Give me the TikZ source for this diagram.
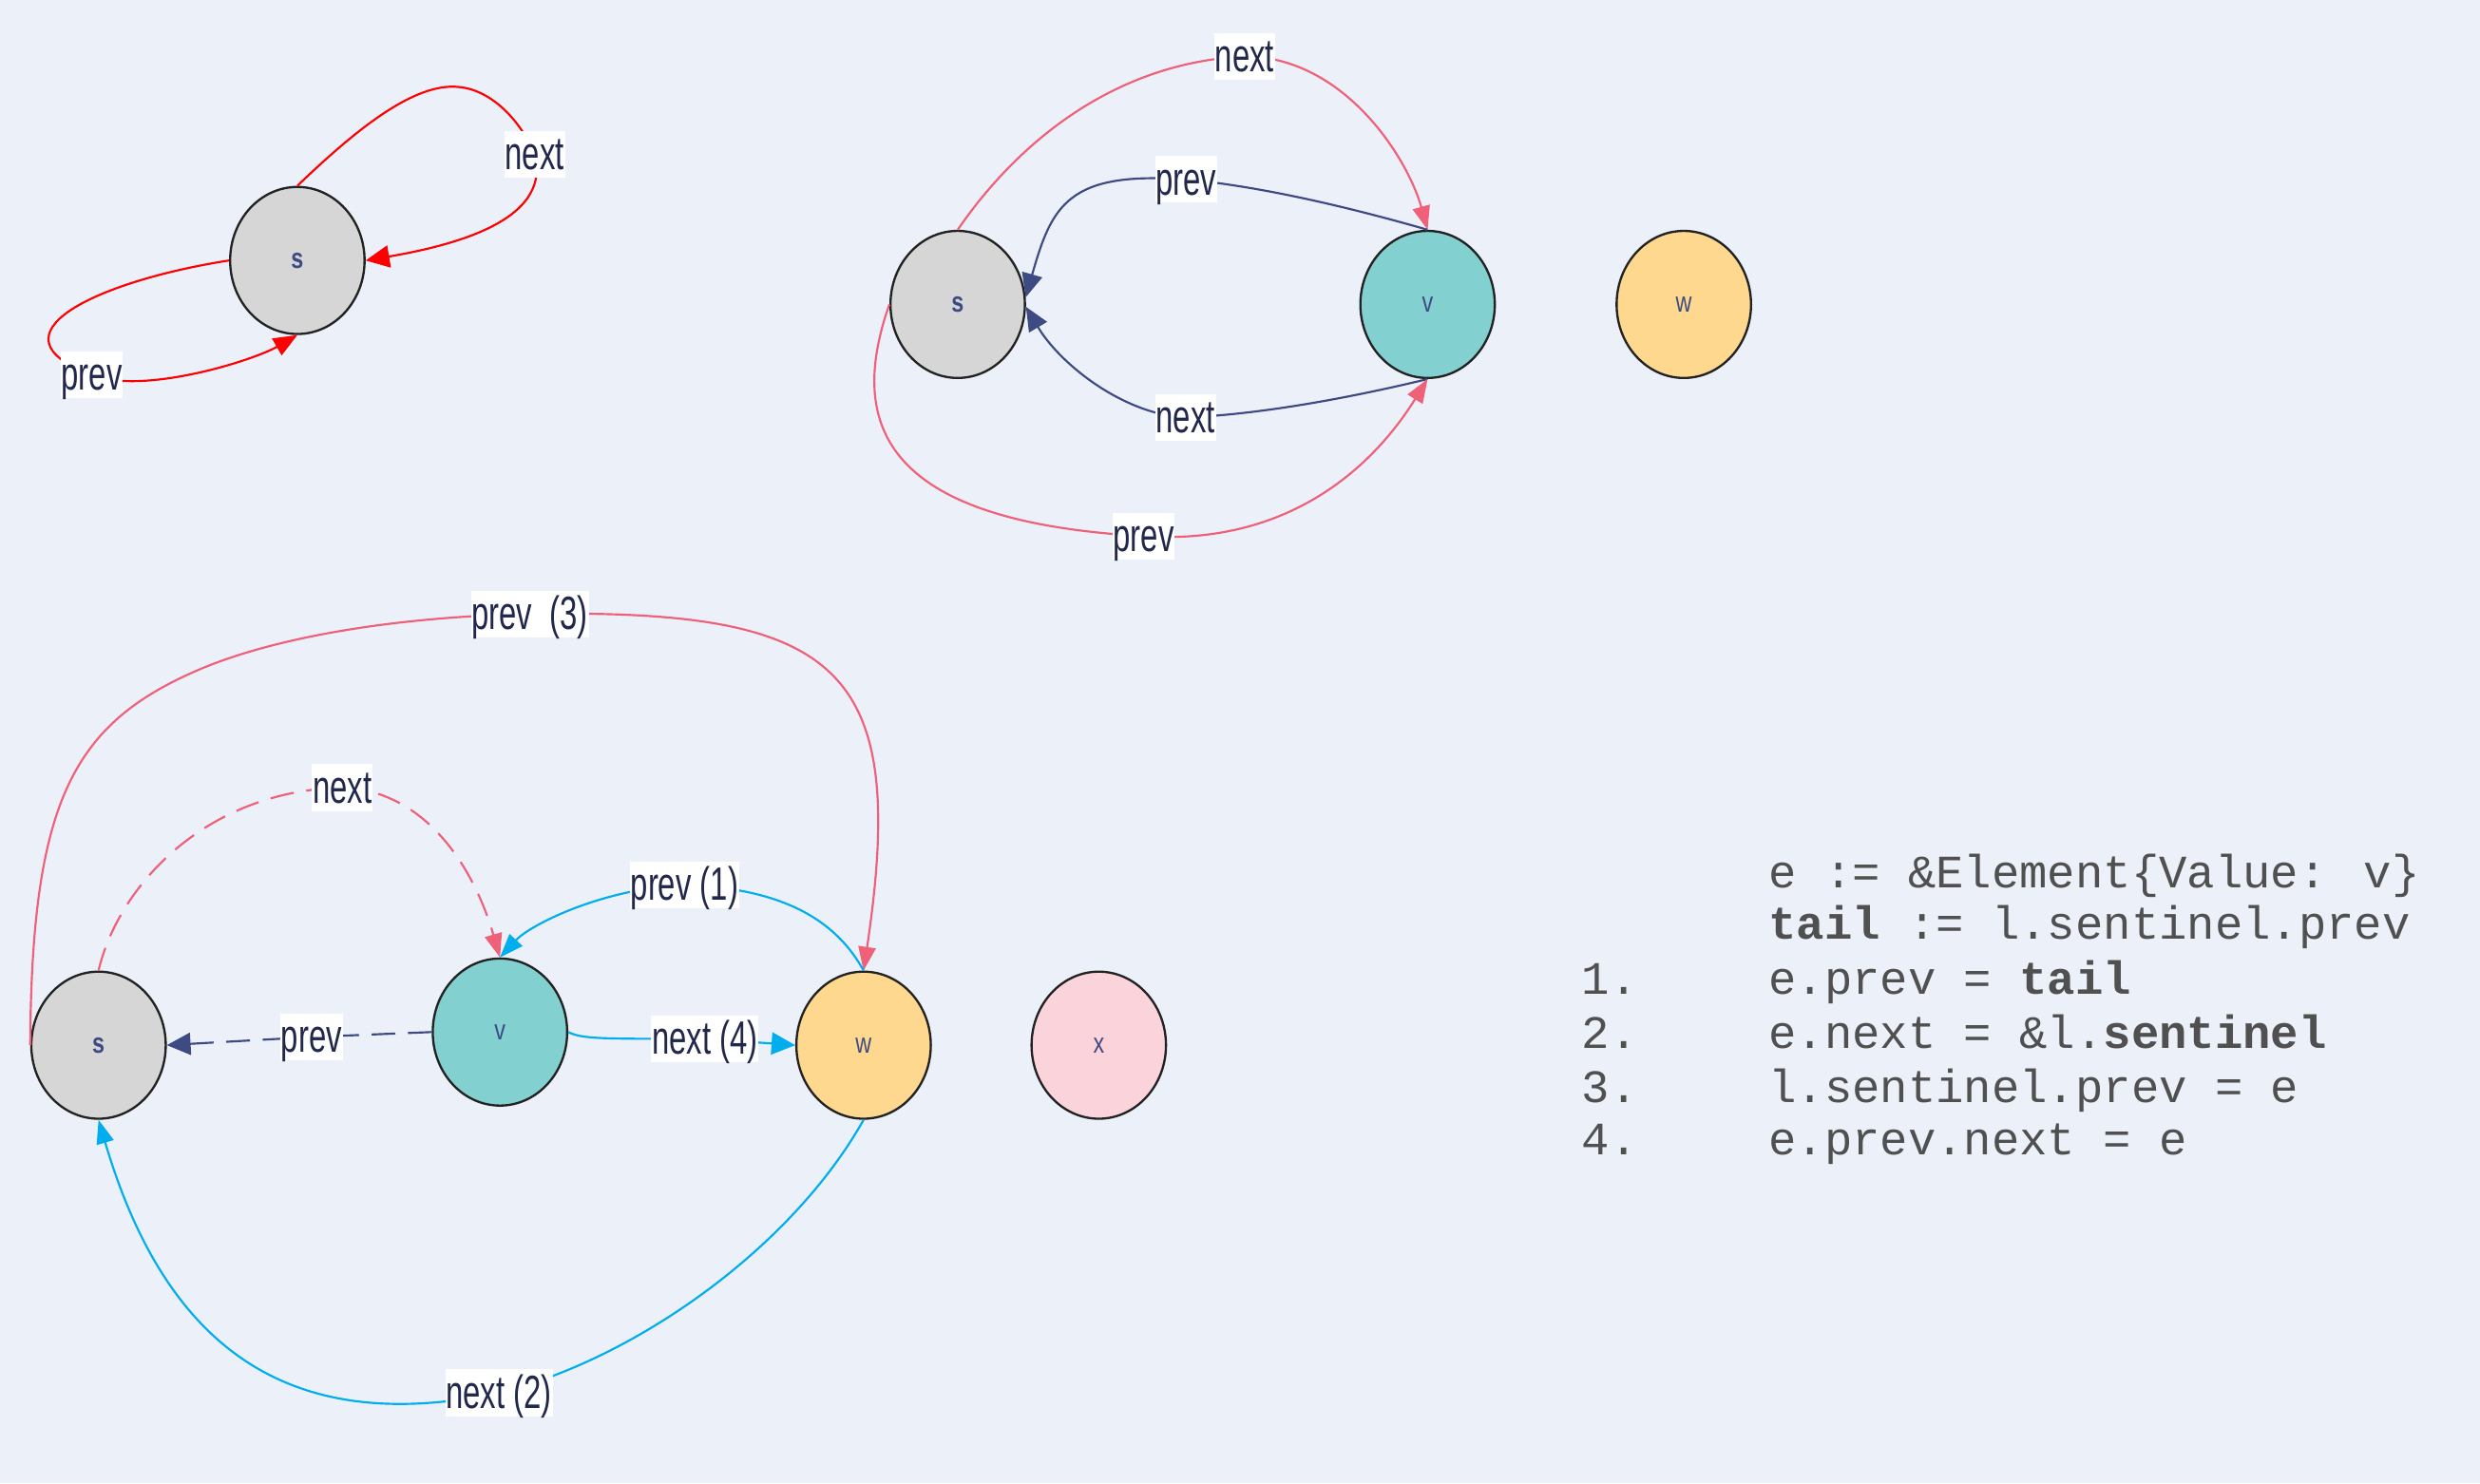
\documentclass[tikz,border=0pt]{standalone}
\usepackage{fontspec}
\usetikzlibrary{shapes.geometric,arrows.meta}
\newfontfamily\lblfont[FakeStretch=0.67]{Liberation Sans}
\newfontfamily\ndfont[FakeStretch=0.78]{Liberation Sans}
\newfontfamily\codefont{Liberation Mono}
\definecolor{bgc}{RGB}{235,240,249}
\definecolor{gfill}{RGB}{214,214,214}
\definecolor{tfill}{RGB}{130,208,207}
\definecolor{ofill}{RGB}{254,216,142}
\definecolor{pfill}{RGB}{250,212,218}
\definecolor{outl}{RGB}{34,34,34}
\definecolor{ntext}{RGB}{62,74,130}
\definecolor{ltext}{RGB}{33,40,75}
\definecolor{epink}{RGB}{239,96,121}
\definecolor{enavy}{RGB}{62,74,130}
\definecolor{ecyan}{RGB}{0,173,239}
\definecolor{ered}{RGB}{255,0,0}
\definecolor{ctext}{RGB}{80,80,80}
\begin{document}
\begin{tikzpicture}[x=1pt,y=-1pt,
 gnode/.style={ellipse, draw=outl, line width=1.4pt, minimum width=85pt, minimum height=93pt, inner sep=0pt, text=ntext, font=\ndfont\fontsize{18}{18}\selectfont},
 elbl/.style={fill=white, inner xsep=0.5pt, inner ysep=1pt, text height=23.5pt, text depth=4pt, text=ltext, font=\lblfont\fontsize{29.5}{30}\selectfont},
 conn/.style={line width=1.3pt, -{Triangle[length=15pt,width=#1]}},
 conn/.default=11pt,
 dashedconn/.style={conn=#1, dash pattern=on 15pt off 8pt},
 dashedconn/.default=11pt,
 codeline/.style={anchor=base west, inner sep=0pt, text=ctext, font=\codefont\fontsize{29.4}{34}\selectfont}
]
\useasboundingbox (0,0) rectangle (1568,938);
\fill[bgc] (0,0) rectangle (1568,938);

% ---------- top-left graph ----------
\node[gnode, fill=gfill] (sA) at (188,164.7) {\bfseries s};
\coordinate (lA1) at (338,97.6);
\coordinate (lA2) at (58,237);
\draw[conn=14pt, ered] (sA.north) .. controls (225,82) and (262,52) .. (290,55) .. controls (312,57) and (330,78) .. (lA1) .. controls (348,135) and (300,153) .. (sA.east);
\draw[conn=12pt, ered] (sA.west) .. controls (60,178) and (-10,212) .. (lA2) .. controls (90,250) and (160,228) .. (sA.south);
\node[elbl] (LA1) at (lA1) {next};
\node[elbl] (LA2) at (lA2) {prev};

% ---------- top-right graph ----------
\node[gnode, fill=gfill] (sB) at (605.5,192.5) {\bfseries s};
\node[gnode, fill=tfill] (vB) at (902.6,192.5) {v};
\node[gnode, fill=ofill] (wB) at (1064.6,192.5) {w};
\coordinate (lB1) at (787,35.6);
\coordinate (lB2) at (750,113.5);
\coordinate (lB3) at (749.5,264);
\coordinate (lB4) at (723,339);
\draw[conn, epink] (sB.north) .. controls (640,95) and (700,40) .. (lB1) .. controls (850,36) and (890,100) .. (vB.north);
\draw[conn=13pt, enavy] (vB.north) .. controls (860,133) and (800,118) .. (lB2) .. controls (675,108) and (665,130) .. (sB.6);
\draw[conn=13pt, enavy] (vB.south) .. controls (860,250) and (800,262) .. (lB3) .. controls (710,262) and (670,230) .. (sB.-2);
\draw[conn, epink] (sB.west) .. controls (535,270) and (560,330) .. (lB4) .. controls (810,345) and (865,300) .. (vB.south);
\node[elbl] (LB1) at (lB1) {next};
\node[elbl] (LB2) at (lB2) {prev};
\node[elbl] (LB3) at (lB3) {next};
\node[elbl] (LB4) at (lB4) {prev};

% ---------- bottom graph ----------
\node[gnode, fill=gfill] (sC) at (62.3,660.9) {\bfseries s};
\node[gnode, fill=tfill] (vC) at (316.1,652.6) {v};
\node[gnode, fill=ofill] (wC) at (546,660.9) {w};
\node[gnode, fill=pfill] (xC) at (694.7,660.9) {x};
\coordinate (lC1) at (335,388.2);
\coordinate (lC2) at (216.5,498);
\coordinate (lC3) at (432.8,559.5);
\coordinate (lC4) at (197,655.7);
\coordinate (lC5) at (445.7,656.8);
\coordinate (lC6) at (315.5,880.7);
\draw[conn, epink] (sC.west) .. controls (20,510) and (45,460) .. (120,426) .. controls (170,403) and (250,390) .. (lC1) .. controls (530,385) and (575,420) .. (wC.north);
\draw[dashedconn, epink] (sC.north) .. controls (75,560) and (130,500) .. (lC2) .. controls (270,500) and (300,550) .. (vC.north);
\draw[conn, ecyan] (wC.north) .. controls (530,585) and (500,562) .. (lC3) .. controls (380,562) and (335,585) .. (vC.north);
\draw[dashedconn=14pt, enavy] (vC.west) -- (lC4) -- (sC.east);
\draw[conn=14pt, ecyan] (vC.east) .. controls (368,657) and (380,657) .. (lC5) -- (wC.west);
\draw[conn, ecyan] (wC.south) .. controls (500,790) and (400,860) .. (lC6) .. controls (200,905) and (110,870) .. (sC.south);
\node[elbl] (LC1) at (lC1) {prev\ \ (3)};
\node[elbl] (LC2) at (lC2) {next};
\node[elbl] (LC3) at (lC3) {prev (1)};
\node[elbl] (LC4) at (lC4) {prev};
\node[elbl] (LC5) at (lC5) {next (4)};
\node[elbl] (LC6) at (lC6) {next (2)};

% ---------- code ----------
\node[codeline] (c0) at (1118,561.7) {e := \&Element\{Value: v\}};
\node[codeline] (c1) at (1118,593.8) {\textbf{tail} := l.sentinel.prev};
\node[codeline] (n1) at (1000,628.4) {1.};
\node[codeline] (c2) at (1118,628.4) {e.prev = \textbf{tail}};
\node[codeline] (n2) at (1000,662.9) {2.};
\node[codeline] (c3) at (1118,662.9) {e.next = \&l.\textbf{sentinel}};
\node[codeline] (n3) at (1000,696.9) {3.};
\node[codeline] (c4) at (1118,696.9) {l.sentinel.prev = e};
\node[codeline] (n4) at (1000,730) {4.};
\node[codeline] (c5) at (1118,730) {e.prev.next = e};
\end{tikzpicture}
\end{document}
